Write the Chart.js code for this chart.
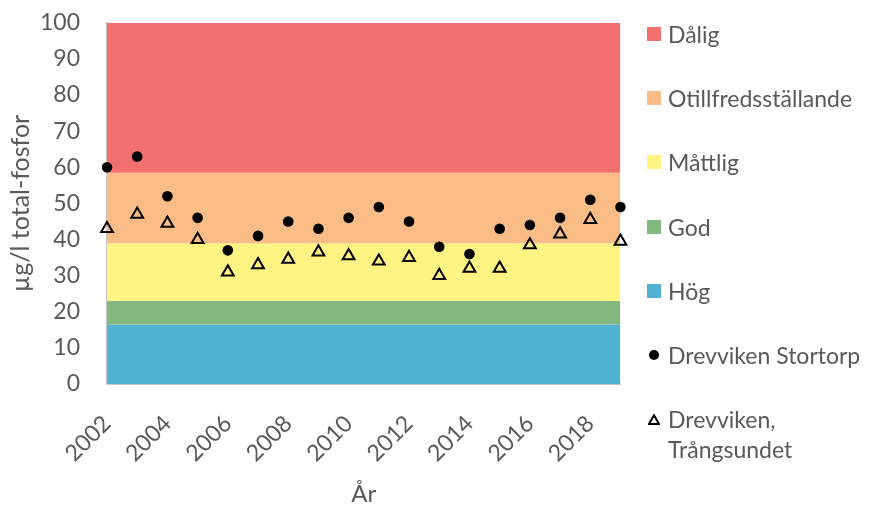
<!DOCTYPE html>
<html>
<head>
<meta charset="utf-8">
<script src="https://cdn.jsdelivr.net/npm/chart.js@4.4.1/dist/chart.umd.min.js"></script>
<style>
  body { margin: 0; background: #fff; font-family: Lato, sans-serif; }
  #wrap { position: relative; width: 878px; height: 506px; overflow: hidden; }
  #chartBox { position: absolute; left: 0; top: -18px; width: 666px; height: 524px; }
  #legend { position: absolute; left: 646px; top: 0; width: 232px; height: 506px; color: #595959; font-size: 23px; }
  .item { position: absolute; left: 0; display: flex; align-items: flex-start; line-height: 30px; white-space: nowrap; }
  .mark { width: 16px; height: 30px; display: flex; align-items: center; justify-content: center; margin-right: 6px; flex: none; }
</style>
</head>
<body>
<div id="wrap">
  <div id="chartBox"><canvas id="chart"></canvas></div>
  <div id="legend"></div>
</div>
<script>
// ----- Data -----
const years = ["2002", "2003", "2004", "2005", "2006", "2007", "2008", "2009", "2010",
  "2011", "2012", "2013", "2014", "2015", "2016", "2017", "2018", "2019"];
const stortorp = [60, 63, 52, 46, 37, 41, 45, 43, 46, 49, 45, 38, 36, 43, 44, 46, 51, 49];
const trangsundet = [43, 47, 44.5, 40, 31, 33, 34.5, 36.5, 35.5, 34, 35, 30, 32, 32, 38.5, 41.5, 45.5, 39.5];

// status classes, upper limit of each band (top to bottom)
const classNames = ["Dålig", "Otillfredsställande", "Måttlig", "God", "Hög"];
const classUpper = [100, 58.5, 39, 23, 16.5];
const classColors = ["#F2706E", "#F9BC86", "#FFF384", "#82B77F", "#50B2D2"];

const textColor = "#595959";

// ----- Band datasets (filled between neighbouring limits) -----
const bandSets = classNames.map((name, i) => ({
  label: name,
  data: years.map(() => classUpper[i]),
  backgroundColor: classColors[i],
  borderWidth: 0,
  pointRadius: 0,
  pointHoverRadius: 0,
  fill: i < classNames.length - 1 ? "+1" : "origin"
}));

new Chart(document.getElementById("chart"), {
  type: "line",
  data: {
    labels: years,
    datasets: [
      ...bandSets,
      {
        label: "Drevviken Stortorp",
        data: stortorp,
        showLine: false,
        pointStyle: "circle",
        pointRadius: 5.3,
        backgroundColor: "#000",
        borderColor: "#000",
        borderWidth: 0
      },
      {
        label: "Drevviken, Trångsundet",
        data: trangsundet,
        showLine: false,
        pointStyle: "triangle",
        pointRadius: 6.8,
        backgroundColor: "rgba(0,0,0,0)",
        borderColor: "#000",
        borderWidth: 2
      }
    ]
  },
  options: {
    responsive: true,
    maintainAspectRatio: false,
    animation: false,
    layout: { padding: { top: 13, right: 9 } },
    plugins: {
      legend: { display: false },
      tooltip: { enabled: false },
      filler: { drawTime: "beforeDatasetsDraw" }
    },
    scales: {
      x: {
        grid: { display: false, drawTicks: false },
        border: { display: true, color: "#C8C8C8", width: 2 },
        afterFit: s => { s.height = 122; },
        ticks: {
          autoSkip: false,
          minRotation: 45,
          maxRotation: 45,
          padding: 26,
          color: textColor,
          font: { family: "Lato", size: 23 },
          callback: (v, i) => (i % 2 === 0 ? years[i] : "")
        },
        title: {
          display: true,
          text: "År",
          color: textColor,
          font: { family: "Lato", size: 24, lineHeight: 1 },
          padding: { top: 0, bottom: 0 }
        }
      },
      y: {
        min: 0,
        max: 100,
        grid: { display: false, drawTicks: false },
        border: { display: true, color: "#C8C8C8", width: 2 },
        afterFit: s => { s.width = 107; },
        ticks: {
          stepSize: 10,
          padding: 27,
          color: textColor,
          font: { family: "Lato", size: 23 }
        },
        title: {
          display: true,
          text: "µg/l total-fosfor",
          color: textColor,
          font: { family: "Lato", size: 25 },
          padding: { top: 6, bottom: 0 }
        }
      }
    }
  }
});

// ----- Legend (right side) -----
const legend = document.getElementById("legend");
const entries = classNames.map((n, i) => ({ text: [n], mark: "rect", color: classColors[i] }));
entries.push({ text: ["Drevviken Stortorp"], mark: "dot" });
entries.push({ text: ["Drevviken,", "Trångsundet"], mark: "tri" });

entries.forEach((e, i) => {
  const item = document.createElement("div");
  item.className = "item";
  item.style.top = (19 + i * 64.2) + "px";
  const mark = document.createElement("div");
  mark.className = "mark";
  if (e.mark === "rect") {
    mark.innerHTML = `<span style="display:block;width:14px;height:14px;background:${e.color}"></span>`;
  } else if (e.mark === "dot") {
    mark.innerHTML = `<span style="display:block;width:10px;height:10px;border-radius:50%;background:#000"></span>`;
  } else {
    mark.innerHTML = `<svg width="12" height="11"><polygon points="6,1.2 11,10 1,10" fill="none" stroke="#000" stroke-width="2"/></svg>`;
  }
  const label = document.createElement("div");
  label.innerHTML = e.text.join("<br>");
  item.appendChild(mark);
  item.appendChild(label);
  legend.appendChild(item);
});
</script>
</body>
</html>
